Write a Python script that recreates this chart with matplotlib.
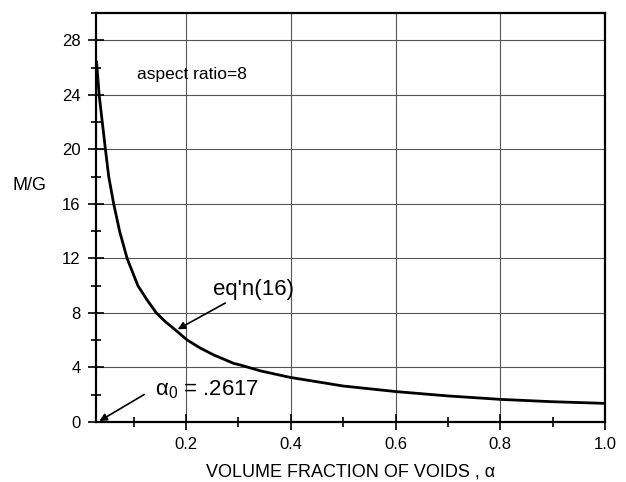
import matplotlib
matplotlib.use("Agg")
import matplotlib.pyplot as plt
from matplotlib.ticker import MultipleLocator

plt.rcParams['font.family'] = ['Liberation Sans', 'DejaVu Sans']

alpha = [0.0291, 0.034, 0.046, 0.0523, 0.0618, 0.0733, 0.0874, 0.1080, 0.1256,
         0.1433, 0.1605, 0.1796, 0.2019, 0.2273, 0.2527, 0.291, 0.3036, 0.342,
         0.399, 0.5, 0.601, 0.701, 0.8, 0.898, 0.997]
mg = [26.4, 24.0, 20.0, 18.0, 16.0, 13.96, 12.0, 10.0, 8.95,
      8.0, 7.36, 6.75, 6.02, 5.42, 4.92, 4.3, 4.18, 3.75,
      3.27, 2.64, 2.23, 1.91, 1.66, 1.49, 1.37]

x_ticks = [0.2, 0.4, 0.6, 0.8, 1.0]
x_labels = ["0.2", "0.4", "0.6", "0.8", "1.0"]
y_ticks = [0, 4, 8, 12, 16, 20, 24, 28]

fig = plt.figure(figsize=(6.26, 4.82), dpi=100)
ax = fig.add_axes([96/626, 60/482, 509/626, 409/482])

ax.plot(alpha, mg, color='black', lw=2.0, solid_joinstyle='round')
ax.set_xlim(0.028, 1.0)
ax.set_ylim(0, 30)

ax.set_xticks(x_ticks)
ax.set_xticklabels(x_labels)
ax.set_yticks(y_ticks)
ax.xaxis.set_minor_locator(MultipleLocator(0.1))
ax.yaxis.set_minor_locator(MultipleLocator(2))
ax.grid(True, which='major', color='#555555', lw=0.8)
ax.tick_params(axis='both', which='major', direction='inout', length=11.5, width=1.2,
               labelsize=12, colors='black')
ax.tick_params(axis='both', which='minor', direction='inout', length=6.5, width=1.2)
ax.tick_params(axis='x', which='major', pad=5)
ax.tick_params(axis='y', which='major', pad=5.5)
for s in ax.spines.values():
    s.set_linewidth(1.6)

ax.set_xlabel("VOLUME FRACTION OF VOIDS , α", fontsize=13, labelpad=8)
fig.text(12/626, 1 - 186/482, "M/G", fontsize=13, va='center', ha='left')

ax.text(0.107, 25.5, "aspect ratio=8", fontsize=12.5, va='center', ha='left')

ax.annotate("eq'n(16)", xy=(0.184, 6.8), xytext=(0.252, 9.7),
            fontsize=16, ha='left', va='center',
            arrowprops=dict(arrowstyle='-|>', color='black', lw=1.2,
                            mutation_scale=11, shrinkA=0, shrinkB=0,
                            relpos=(0.21, 0.0)))
ax.annotate(r"$\mathregular{\alpha_0}$ = .2617", xy=(0.0345, 0.07), xytext=(0.14, 2.35),
            fontsize=16, ha='left', va='center',
            arrowprops=dict(arrowstyle='-|>', color='black', lw=1.2,
                            mutation_scale=11, shrinkA=0, shrinkB=0,
                            relpos=(-0.1, 0.3)))

fig.savefig("out.png", dpi=100)
